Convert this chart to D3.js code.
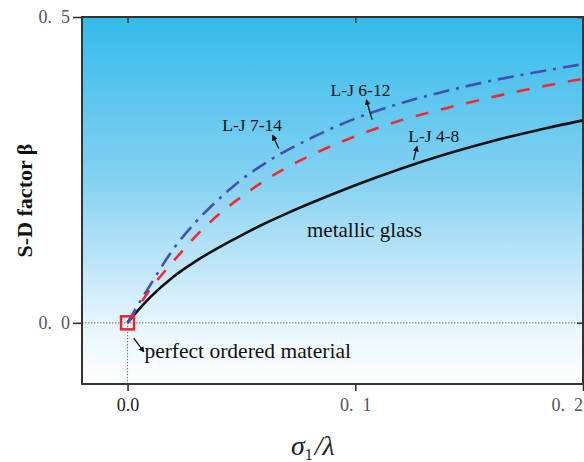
<!DOCTYPE html>
<html>
<head>
<meta charset="utf-8">
<script src="https://cdn.jsdelivr.net/npm/d3@7"></script>
<style>
  html, body { margin: 0; padding: 0; background: #fff; overflow: hidden; }
  svg { display: block; }
  text { font-family: "Liberation Serif", "Times New Roman", serif; }
</style>
</head>
<body>
<div id="chart"></div>
<script>
// ---- data ----
const sigma = [0, 0.005, 0.01, 0.02, 0.03, 0.04, 0.05, 0.06, 0.07, 0.08, 0.1, 0.12, 0.14, 0.16, 0.18, 0.2];
const lj48  = [0, 0.022, 0.042, 0.075, 0.101, 0.123, 0.143, 0.162, 0.179, 0.195, 0.225, 0.252, 0.276, 0.297, 0.315, 0.331];
const lj612 = [0, 0.028, 0.055, 0.100, 0.142, 0.177, 0.206, 0.232, 0.254, 0.273, 0.305, 0.331, 0.351, 0.369, 0.385, 0.399];
const lj714 = [0, 0.032, 0.062, 0.120, 0.165, 0.202, 0.234, 0.260, 0.282, 0.301, 0.334, 0.359, 0.379, 0.396, 0.410, 0.423];

const xTicks = [0, 0.1, 0.2];
const xTickLabels = ["0.0", "0.\u20021", "0.\u20022"];
const yTicks = [0, 0.5];
const yTickLabels = ["0.\u20020", "0.\u20025"];

// annotations: label, text anchor point, arrow tail -> head (data units)
const notes = [
  { text: "L-J 7-14", x: 0.0547, y: 0.314, anchor: "middle", size: 17.5, tail: [0.0664, 0.285], head: [0.0638, 0.306] },
  { text: "L-J 6-12", x: 0.1023, y: 0.371, anchor: "middle", size: 17.5, tail: [0.1074, 0.332], head: [0.1049, 0.364] },
  { text: "L-J 4-8",  x: 0.1233, y: 0.296, anchor: "start",  size: 17.5, tail: [0.1256, 0.266], head: [0.1271, 0.288] },
  { text: "metallic glass", x: 0.0788, y: 0.141, anchor: "start", size: 21, tail: null, head: null },
  { text: "perfect ordered material", x: 0.0074, y: -0.058, anchor: "start", size: 21.5, tail: [0.0027, -0.025], head: [0.0071, -0.047] }
];

const width = 584, height = 462;
const margin = { top: 17, right: 1, bottom: 78, left: 82 };
const w = width - margin.left - margin.right;
const h = height - margin.top - margin.bottom;

const svg = d3.select("#chart").append("svg")
  .attr("width", width).attr("height", height);

const defs = svg.append("defs");
const grad = defs.append("linearGradient")
  .attr("id", "bg").attr("x1", 0).attr("y1", 0).attr("x2", 0).attr("y2", 1);
grad.append("stop").attr("offset", "0%").attr("stop-color", "#34bbea");
grad.append("stop").attr("offset", "45%").attr("stop-color", "#86d1f2");
grad.append("stop").attr("offset", "82%").attr("stop-color", "#e3f4fc");
grad.append("stop").attr("offset", "100%").attr("stop-color", "#ffffff");

defs.append("marker")
  .attr("id", "arr").attr("viewBox", "0 0 10 10")
  .attr("refX", 8).attr("refY", 5)
  .attr("markerWidth", 4.6).attr("markerHeight", 4.6)
  .attr("orient", "auto")
  .append("path").attr("d", "M0,0 L10,5 L0,10 z").attr("fill", "#111");

const g = svg.append("g").attr("transform", `translate(${margin.left},${margin.top})`);

const x = d3.scaleLinear().domain([-0.02, 0.2]).range([0, w]);
const y = d3.scaleLinear().domain([-0.1, 0.5]).range([h, 0]);

// background
g.append("rect").attr("width", w).attr("height", h).attr("fill", "url(#bg)");

// dotted reference lines
g.append("line")
  .attr("x1", 0).attr("x2", w).attr("y1", y(0)).attr("y2", y(0))
  .attr("stroke", "#777").attr("stroke-width", 1).attr("stroke-dasharray", "1.5,1.5");
g.append("line")
  .attr("x1", x(0)).attr("x2", x(0)).attr("y1", y(0)).attr("y2", h)
  .attr("stroke", "#777").attr("stroke-width", 1).attr("stroke-dasharray", "1.5,1.5");

// axes
const styleAxis = sel => {
  sel.select(".domain").remove();
  sel.selectAll("line").attr("stroke", "#333").attr("stroke-width", 1.6);
  sel.selectAll("text")
    .style("font-family", "'Liberation Serif', serif")
    .style("font-size", "18px");
};

g.append("g")
  .attr("transform", `translate(0,${h})`)
  .call(d3.axisBottom(x).tickValues(xTicks).tickSize(7).tickPadding(7)
    .tickFormat((d, i) => xTickLabels[i]))
  .call(styleAxis)
  .call(s => s.selectAll("text")
    .attr("fill", (d, i) => i === 0 ? "#1a1a1a" : "#555")
    .attr("dx", (d, i) => i === xTicks.length - 1 ? "-0.9em" : null));

g.append("g")
  .call(d3.axisLeft(y).tickValues(yTicks).tickSize(9).tickPadding(3)
    .tickFormat((d, i) => yTickLabels[i]))
  .call(styleAxis)
  .call(s => s.selectAll("text").attr("fill", "#555"));

// mirror ticks (inward) on top and right
g.append("g")
  .call(d3.axisTop(x).tickValues(xTicks.slice(0, 2)).tickSize(-6).tickFormat(""))
  .call(styleAxis);
g.append("g")
  .attr("transform", `translate(${w},0)`)
  .call(d3.axisRight(y).tickValues(yTicks).tickSize(-6).tickFormat(""))
  .call(styleAxis);

// frame
g.append("rect").attr("width", w).attr("height", h)
  .attr("fill", "none").attr("stroke", "#333").attr("stroke-width", 2);

// curves
const series = [
  { values: lj48,  color: "#111111", dash: null },
  { values: lj612, color: "#f02a33", dash: "13,13" },
  { values: lj714, color: "#4550ad", dash: "16,7,3,7" }
];

const line = d3.line()
  .x((d, i) => x(sigma[i]))
  .y(d => y(d))
  .curve(d3.curveMonotoneX);

g.selectAll("path.curve")
  .data(series)
  .enter().append("path")
  .attr("class", "curve")
  .attr("fill", "none")
  .attr("stroke", d => d.color)
  .attr("stroke-width", 2.6)
  .attr("stroke-dasharray", d => d.dash)
  .attr("d", d => line(d.values));

// marker square at origin
g.append("rect")
  .attr("x", x(0) - 6.5).attr("y", y(0) - 6.5)
  .attr("width", 13).attr("height", 13)
  .attr("fill", "none").attr("stroke", "#e8262a").attr("stroke-width", 2.5);

// annotations
const ann = g.selectAll("g.note").data(notes).enter().append("g").attr("class", "note");
ann.append("text")
  .attr("x", d => x(d.x)).attr("y", d => y(d.y))
  .attr("text-anchor", d => d.anchor)
  .attr("fill", "#111")
  .style("font-size", d => d.size + "px")
  .text(d => d.text);
ann.filter(d => d.tail)
  .append("line")
  .attr("x1", d => x(d.tail[0])).attr("y1", d => y(d.tail[1]))
  .attr("x2", d => x(d.head[0])).attr("y2", d => y(d.head[1]))
  .attr("stroke", "#111").attr("stroke-width", 1.3)
  .attr("marker-end", "url(#arr)");

// axis titles
svg.append("text")
  .attr("transform", `translate(32,${margin.top + y(0.2)}) rotate(-90)`)
  .attr("text-anchor", "middle")
  .attr("fill", "#111")
  .style("font-size", "22px").style("font-weight", "bold")
  .text("S-D factor β");

const xt = svg.append("text")
  .attr("x", 291).attr("y", 455)
  .attr("text-anchor", "start")
  .attr("fill", "#222")
  .style("font-size", "28px").style("font-style", "italic");
xt.append("tspan").text("σ");
xt.append("tspan").attr("dy", 5).style("font-size", "16px").style("font-style", "normal").text("1");
xt.append("tspan").attr("dy", -5).attr("dx", 2).text("/λ");
</script>
</body>
</html>
